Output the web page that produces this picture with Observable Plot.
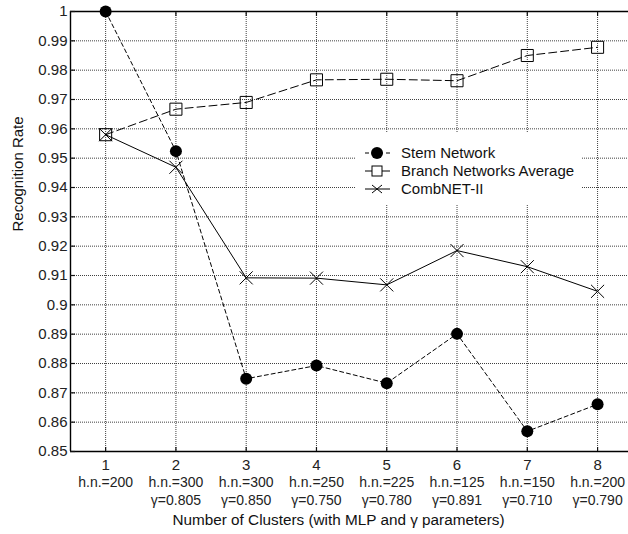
<!DOCTYPE html>
<html>
<head>
<meta charset="utf-8">
<script src="https://cdn.jsdelivr.net/npm/d3@7"></script>
<script src="https://cdn.jsdelivr.net/npm/@observablehq/plot@0.6"></script>
<style>
  html, body { margin: 0; padding: 0; background: #fff; }
</style>
</head>
<body>
<div id="chart"></div>
<script>
// ---- data ----
const categories = [1, 2, 3, 4, 5, 6, 7, 8];
const clusterLabels = ["1", "2", "3", "4", "5", "6", "7", "8"];
const hnLabels = ["h.n.=200", "h.n.=300", "h.n.=300", "h.n.=250", "h.n.=225", "h.n.=125", "h.n.=150", "h.n.=200"];
const gammaLabels = ["", "γ=0.805", "γ=0.850", "γ=0.750", "γ=0.780", "γ=0.891", "γ=0.710", "γ=0.790"];
const stemNetwork = [1.0, 0.9524, 0.8748, 0.8793, 0.8733, 0.8901, 0.8569, 0.8661];
const branchAverage = [0.958, 0.9667, 0.969, 0.9767, 0.9769, 0.9764, 0.985, 0.9878];
const combNet = [0.958, 0.9469, 0.9092, 0.9091, 0.9068, 0.9185, 0.913, 0.9046];
const yTicks = [0.85, 0.86, 0.87, 0.88, 0.89, 0.9, 0.91, 0.92, 0.93, 0.94, 0.95, 0.96, 0.97, 0.98, 0.99, 1];
const seriesNames = ["Stem Network", "Branch Networks Average", "CombNET-II"];
const xTitle = "Number of Clusters (with MLP and γ parameters)";
const yTitle = "Recognition Rate";

const xDomain = [0.5, 8.44];
const yDomain = [0.85, 1];

const rows = (vals) => categories.map((c, i) => ({x: c, y: vals[i]}));
const stemData = rows(stemNetwork);
const branchData = rows(branchAverage);
const combData = rows(combNet);

const font = "'Liberation Sans', Arial, Helvetica, sans-serif";
const gridStyle = {stroke: "#000", strokeOpacity: 0.75, strokeWidth: 1, strokeDasharray: "1,1"};

const chart = Plot.plot({
  width: 628,
  height: 534,
  marginTop: 11,
  marginBottom: 83,
  marginLeft: 70,
  marginRight: 0,
  style: {fontFamily: font, fontSize: "15px", background: "#fff", color: "#111"},
  x: {domain: xDomain, axis: null},
  y: {domain: yDomain, axis: null},
  marks: [
    Plot.gridY({ticks: yTicks, ...gridStyle}),
    Plot.gridX({ticks: categories, ...gridStyle}),
    // frame
    Plot.ruleY(yDomain, {stroke: "#000", strokeWidth: 1.4}),
    Plot.ruleX([xDomain[0]], {stroke: "#000", strokeWidth: 1.4}),
    // inward ticks
    Plot.axisX({ticks: categories, anchor: "bottom", label: null, tickSize: -4, tickFormat: () => "", strokeWidth: 1.2}),
    Plot.axisX({ticks: categories, anchor: "top", label: null, tickSize: -4, tickFormat: () => "", strokeWidth: 1.2}),
    Plot.axisY({ticks: yTicks, anchor: "left", label: null, tickSize: -5, tickPadding: 8,
      tickFormat: d => String(+d.toFixed(2)), fill: "#222", fontSize: 15, strokeWidth: 1.2}),
    // x tick label rows
    Plot.text(categories, {x: d => d, text: (d, i) => clusterLabels[i], frameAnchor: "bottom", lineAnchor: "middle", dy: 14, fontSize: 15, fill: "#222"}),
    Plot.text(categories, {x: d => d, text: (d, i) => hnLabels[i], frameAnchor: "bottom", lineAnchor: "middle", dy: 31, fontSize: 14, fill: "#222"}),
    Plot.text(categories, {x: d => d, text: (d, i) => gammaLabels[i], frameAnchor: "bottom", lineAnchor: "middle", dy: 49, fontSize: 14, fill: "#222"}),
    Plot.text([xTitle], {frameAnchor: "bottom", lineAnchor: "middle", dx: -11, dy: 69, fontSize: 15.3, fill: "#111"}),
    Plot.text([yTitle], {frameAnchor: "left", dx: -52, rotate: -90, fontSize: 15, fill: "#111"}),
    // series
    Plot.line(stemData, {x: "x", y: "y", stroke: "#000", strokeWidth: 1, strokeDasharray: "4,3"}),
    Plot.line(branchData, {x: "x", y: "y", stroke: "#000", strokeWidth: 1, strokeDasharray: "8,4"}),
    Plot.line(combData, {x: "x", y: "y", stroke: "#000", strokeWidth: 1}),
    Plot.dot(stemData, {x: "x", y: "y", r: 6, fill: "#000", stroke: "none"}),
    Plot.dot(branchData, {x: "x", y: "y", symbol: "square", r: 6.8, fill: "none", stroke: "#000", strokeWidth: 1}),
    Plot.dot(combData, {x: "x", y: "y", symbol: "times", r: 6, fill: "none", stroke: "#000", strokeWidth: 1}),
  ]
});
document.getElementById("chart").appendChild(chart);

// ---- legend (appended on top of the grid) ----
const svg = d3.select(chart);
const g = svg.append("g").attr("text-anchor", "start");
g.append("rect").attr("x", 355).attr("y", 132).attr("width", 227).attr("height", 73).attr("fill", "#fff");
const rowsY = [153, 171, 189];
const sx0 = 365, sx1 = 390, mx = 377, tx = 401;
seriesNames.forEach((name, i) => {
  const y = rowsY[i];
  const line = g.append("line").attr("x1", sx0).attr("x2", sx1).attr("y1", y).attr("y2", y)
    .attr("stroke", "#000").attr("stroke-width", 1);
  if (i === 0) {
    line.attr("stroke-dasharray", "4,3");
    g.append("circle").attr("cx", mx).attr("cy", y).attr("r", 6).attr("fill", "#000");
  } else if (i === 1) {
    g.append("rect").attr("x", mx - 5).attr("y", y - 5).attr("width", 10).attr("height", 10)
      .attr("fill", "#fff").attr("stroke", "#000").attr("stroke-width", 1);
  } else {
    g.append("path").attr("d", `M${mx-5},${y-4}L${mx+5},${y+4}M${mx-5},${y+4}L${mx+5},${y-4}`)
      .attr("stroke", "#000").attr("stroke-width", 1).attr("fill", "none");
  }
  g.append("text").attr("x", tx).attr("y", y).attr("dy", "0.35em")
    .attr("font-family", font).attr("font-size", 15).attr("fill", "#111").text(name);
});
</script>
</body>
</html>
